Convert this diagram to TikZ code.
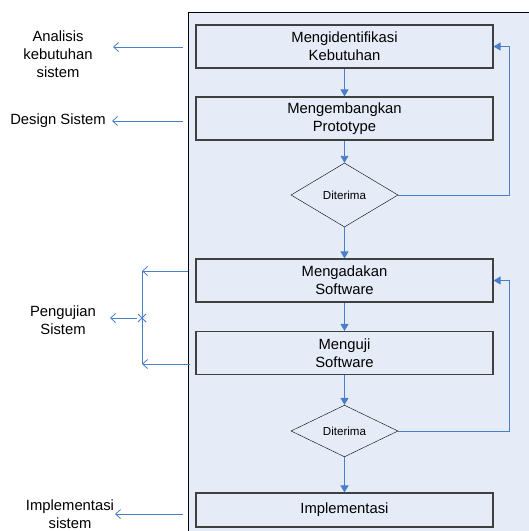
\documentclass[tikz,border=0pt]{standalone}
\usepackage{fontspec}
\setmainfont{Liberation Sans}
\usetikzlibrary{shapes.geometric,arrows.meta,calc}
\definecolor{panelfill}{HTML}{E6ECF7}
\definecolor{flowblue}{HTML}{4A7EC8}
\definecolor{boxline}{HTML}{404040}
\begin{document}
\begin{tikzpicture}[x=1pt,y=-1pt,
    stepbox/.style={draw=boxline, line width=1.1pt, fill=panelfill,
      minimum width=297pt, minimum height=43pt, align=center,
      inner sep=0pt, font=\fontsize{14.8}{18}\selectfont},
    check/.style={draw=black, fill=panelfill, shape=diamond, inner sep=0pt,
      minimum width=107pt, font=\fontsize{11.6}{13}\selectfont},
    flow/.style={flowblue, line width=0.9pt, -{Triangle[length=7pt,width=8pt]}},
    side/.style={flowblue, line width=0.8pt, -{Straight Barb[length=5pt,width=9pt]}},
    sidetext/.style={align=center, inner sep=0pt, font=\fontsize{14.8}{18}\selectfont}]
  \useasboundingbox (0,0) rectangle (529,531);
  % Panel
  \fill[panelfill] (188,12) rectangle (529,531);
  \draw[line width=0.8pt] (188,531) -- (188,12) -- (529,12);
  % Steps
  \node[stepbox] (ident) at (344.5,46.5) {Mengidentifikasi\\Kebutuhan};
  \node[stepbox] (proto) at (344.5,118.5) {Mengembangkan\\Prototype};
  \node[check, minimum height=64pt] (cek1) at (344.5,195) {Diterima};
  \node[stepbox] (adakan) at (344.5,280.5) {Mengadakan\\Software};
  \node[stepbox] (uji) at (344.5,353) {Menguji\\Software};
  \node[check, minimum height=46pt] (cek2) at (344.5,431) {Diterima};
  \node[stepbox, minimum height=34pt] (impl) at (344.5,510) {Implementasi};
  % Flow
  \draw[flow] (ident) -- (proto);
  \draw[flow] (proto) -- (cek1);
  \draw[flow] (cek1) -- (adakan);
  \draw[flow] (adakan) -- (uji);
  \draw[flow] (uji) -- (cek2);
  \draw[flow] (cek2) -- (impl);
  \draw[flow] (cek1.east) -- (509,195) |- (ident.east);
  \draw[flow] (cek2.east) -- (509,431) |- (adakan.east);
  % Labels on the left
  \node[sidetext] (analisis) at (58,54) {Analisis\\kebutuhan\\sistem};
  \node[sidetext] (design) at (58,121) {Design Sistem};
  \node[sidetext] (pengujian) at (63,320) {Pengujian\\Sistem};
  \node[sidetext] (implsis) at (70,514) {Implementasi\\sistem};
  \coordinate (s1) at (183,47);   \coordinate (t1) at (113,47);
  \coordinate (s2) at (183,121);  \coordinate (t2) at (112,121);
  \coordinate (s3) at (188,271);  \coordinate (t3) at (142,271);
  \coordinate (s4) at (190,364);  \coordinate (t4) at (142,364);
  \coordinate (s5) at (183,514);  \coordinate (t5) at (115,514);
  \coordinate (jn) at (142,318);  \coordinate (t6) at (110,318);
  \draw[side] (s1) -- (t1);
  \draw[side] (s2) -- (t2);
  \draw[side] (s3) -- (t3);
  \draw[side] (s4) -- (t4);
  \draw[side] (s5) -- (t5);
  \draw[flowblue, line width=0.8pt] (t3) -- (t4);
  \draw[flowblue, line width=0.8pt] ($(jn)+(-4,-4)$) -- ($(jn)+(4,4)$)
    ($(jn)+(-4,4)$) -- ($(jn)+(4,-4)$);
  \draw[side] ($(jn)+(-5,0)$) -- (t6);
\end{tikzpicture}
\end{document}
